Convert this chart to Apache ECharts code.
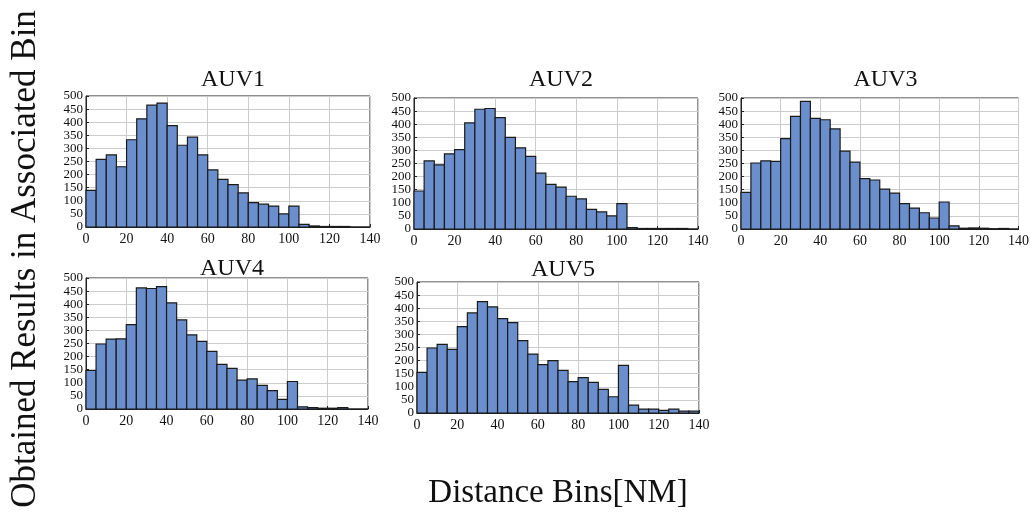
<!DOCTYPE html>
<html>
<head>
<meta charset="utf-8">
<script src="https://cdn.jsdelivr.net/npm/echarts@6/dist/echarts.min.js"></script>
<style>
  html, body { margin: 0; padding: 0; background: #fff; }
  #chart { width: 1032px; height: 514px; }
</style>
</head>
<body>
<div id="chart"></div>
<script>
  // histogram counts, bins of 5 NM from 0 to 140
  var binWidth = 5;
  var auv1 = [140, 258, 275, 230, 333, 413, 465, 473, 387, 312, 343, 275, 218, 182, 162, 130, 93, 87, 80, 50, 80, 10, 4, 2, 2, 2, 0, 0];
  var auv2 = [145, 260, 245, 287, 303, 405, 457, 460, 425, 350, 310, 277, 213, 170, 160, 125, 115, 75, 65, 50, 97, 5, 2, 2, 2, 2, 2, 0];
  var auv3 = [140, 252, 260, 258, 345, 430, 487, 422, 417, 382, 297, 255, 192, 187, 152, 137, 97, 80, 62, 42, 103, 12, 3, 4, 3, 1, 2, 0];
  var auv4 = [147, 248, 267, 268, 322, 462, 460, 467, 405, 340, 283, 258, 220, 170, 155, 110, 115, 90, 70, 37, 105, 8, 5, 3, 3, 5, 0, 0];
  var auv5 = [155, 248, 262, 243, 330, 382, 425, 405, 360, 345, 276, 225, 185, 200, 163, 120, 135, 117, 90, 62, 182, 30, 15, 15, 10, 15, 7, 7];
  var titles = ['AUV1', 'AUV2', 'AUV3', 'AUV4', 'AUV5'];
  var counts = [auv1, auv2, auv3, auv4, auv5];

  // plot boxes in pixels: left, top, width, height, title top
  var boxes = [
    [86, 96, 284, 131, 63],
    [414, 98, 284, 131, 63],
    [741, 98, 279, 131, 63],
    [86, 278, 282, 131, 252],
    [417, 282, 282, 131, 253]
  ];

  var font = 'Liberation Serif';
  var chart = echarts.init(document.getElementById('chart'));

  var grids = [], xAxes = [], yAxes = [], series = [], titleOpts = [];
  boxes.forEach(function (b, i) {
    grids.push({
      left: b[0], top: b[1], width: b[2], height: b[3],
      show: true, borderColor: '#222', borderWidth: 1, backgroundColor: '#fff'
    });
    xAxes.push({
      gridIndex: i, type: 'value', min: 0, max: 140, interval: 20,
      axisLine: { show: true, onZero: false, lineStyle: { color: '#222' } },
      axisTick: { show: true, inside: true, length: 3, lineStyle: { color: '#222' } },
      axisLabel: { color: '#111', fontFamily: font, fontSize: 14, margin: 5, showMinLabel: true, showMaxLabel: true },
      splitLine: { show: true, lineStyle: { color: '#cccccc' } }
    });
    yAxes.push({
      gridIndex: i, type: 'value', min: 0, max: 500, interval: 50,
      axisLine: { show: true, lineStyle: { color: '#222' } },
      axisTick: { show: true, inside: true, length: 3, lineStyle: { color: '#222' } },
      axisLabel: {
        color: '#111', fontFamily: font, fontSize: 13, lineHeight: 12, margin: 3,
        showMinLabel: true, showMaxLabel: true
      },
      splitLine: { show: true, lineStyle: { color: '#cccccc' } }
    });
    titleOpts.push({
      text: titles[i],
      left: b[0] + b[2] / 2, top: b[4], textAlign: 'center',
      textStyle: { fontFamily: font, fontSize: 24, fontWeight: 'normal', color: '#111' }
    });
    var data = counts[i].map(function (v, k) {
      return [k * binWidth, (k + 1) * binWidth, v];
    });
    series.push({
      type: 'custom',
      xAxisIndex: i, yAxisIndex: i,
      encode: { x: [0, 1], y: 2 },
      data: data,
      renderItem: function (params, api) {
        var p0 = api.coord([api.value(0), api.value(2)]);
        var p1 = api.coord([api.value(1), 0]);
        return {
          type: 'rect',
          shape: { x: p0[0], y: p0[1], width: p1[0] - p0[0], height: p1[1] - p0[1] },
          style: { fill: '#6b8fcd', stroke: '#1a1a1a', lineWidth: 1.2 }
        };
      }
    });
  });

  titleOpts.push({
    text: 'Distance Bins[NM]',
    left: 553, top: 472, textAlign: 'center',
    textStyle: { fontFamily: font, fontSize: 33, fontWeight: 'normal', color: '#111' }
  });

  chart.setOption({
    animation: false,
    title: titleOpts,
    grid: grids,
    xAxis: xAxes,
    yAxis: yAxes,
    series: series,
    graphic: [{
      type: 'text',
      x: 26, y: 259, rotation: Math.PI / 2,
      style: {
        text: 'Obtained Results in Associated Bin',
        fontFamily: font, fontSize: 35, fill: '#111',
        align: 'center', verticalAlign: 'middle'
      }
    }]
  });
</script>
</body>
</html>
